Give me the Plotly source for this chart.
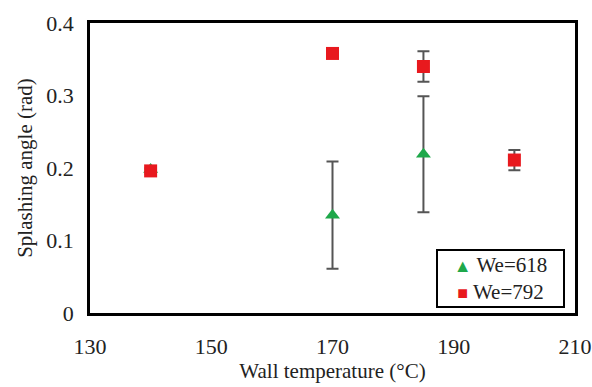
import plotly.graph_objects as go

temps = [140, 170, 185, 200]
we618_temps = [140, 170, 185]
we618_vals = [0.198, 0.135, 0.219]
we618_err = [0.0, 0.074, 0.080]
we792_vals = [0.196, 0.358, 0.340, 0.211]
we792_err = [0.004, 0.0, 0.021, 0.014]
series_names = ["We=618", "We=792"]
x_ticks = [130, 150, 170, 190, 210]
y_ticks = [0, 0.1, 0.2, 0.3, 0.4]
y_ticklabels = ["0", "0.1", "0.2", "0.3", "0.4"]

FONT = "Liberation Serif, Times New Roman, Times, serif"
GREEN = "#1ea84a"
RED = "#e8191e"

fig = go.Figure()
fig.add_trace(go.Scatter(
    x=we618_temps, y=we618_vals, mode="markers", name=series_names[0],
    marker=dict(symbol="triangle-up", size=13, color=GREEN),
    error_y=dict(type="data", array=we618_err, visible=True,
                 color="#555555", thickness=2, width=6),
))
fig.add_trace(go.Scatter(
    x=temps, y=we792_vals, mode="markers", name=series_names[1],
    marker=dict(symbol="square", size=13, color=RED),
    error_y=dict(type="data", array=we792_err, visible=True,
                 color="#555555", thickness=2, width=6),
))

legend_text = (
    f"<span style='color:{GREEN};font-size:18px'>▲</span> {series_names[0]}<br>"
    f"<span style='color:{RED};font-size:18px'>■</span> {series_names[1]}"
)
fig.add_annotation(
    xref="paper", yref="paper", x=0.979, y=0.017,
    xanchor="right", yanchor="bottom", showarrow=False,
    text=legend_text, align="center", width=121,
    font=dict(family=FONT, size=21, color="#222222"),
    bordercolor="black", borderwidth=2, borderpad=2, bgcolor="white",
)

fig.update_layout(
    width=592, height=387,
    margin=dict(l=90, r=17, t=23, b=74),
    paper_bgcolor="white", plot_bgcolor="white",
    font=dict(family=FONT, size=21, color="#222222"),
    showlegend=False,
    xaxis=dict(
        range=[130, 210], tickvals=x_ticks, showgrid=False, zeroline=False,
        showline=True, linecolor="black", linewidth=2.5, mirror=True,
        ticks="", ticklabelstandoff=12, automargin=False,
        tickfont=dict(family=FONT, size=22),
        title=dict(text="Wall temperature (°C)", font=dict(family=FONT, size=21), standoff=6),
    ),
    yaxis=dict(
        range=[0, 0.4], tickvals=y_ticks, ticktext=y_ticklabels,
        showgrid=False, zeroline=False,
        showline=True, linecolor="black", linewidth=2.5, mirror=True,
        ticks="", ticklabelstandoff=9, automargin=False,
        tickfont=dict(family=FONT, size=22),
        title=dict(text="Splashing angle (rad)", font=dict(family=FONT, size=21), standoff=8),
    ),
)

fig.write_html("out.html", config={"displayModeBar": False},
               post_script="document.body.style.margin='0';")
